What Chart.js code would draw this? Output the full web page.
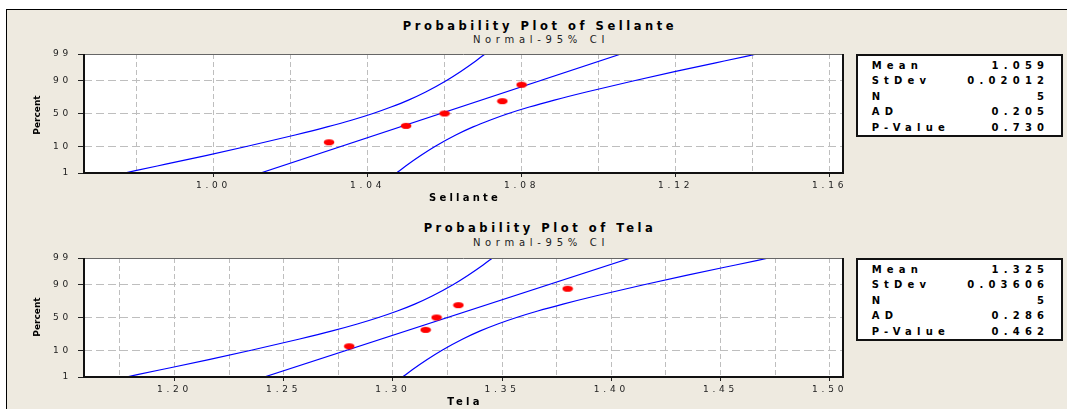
<!DOCTYPE html>
<html>
<head>
<meta charset="utf-8">
<script src="https://cdn.jsdelivr.net/npm/chart.js@4/dist/chart.umd.min.js"></script>
<style>
  body { margin: 0; width: 1067px; height: 409px; overflow: hidden; background: #fff; font-family: "DejaVu Sans", sans-serif; }
  #frame { position: absolute; left: 6px; top: 9px; right: -2px; bottom: -2px; border-left: 1px solid #000; border-top: 1px solid #000; background: #EEEAE0; }
  canvas { position: absolute; left: 8px; }
  .title { position: absolute; left: 0; width: 1080px; text-align: center; font-weight: bold; font-size: 11.5px; line-height: 13px; letter-spacing: 3.55px; color: #000; }
  .sub { position: absolute; left: 0; width: 1082px; text-align: center; font-size: 10px; line-height: 12px; letter-spacing: 4.7px; color: #222; }
  .xlab { position: absolute; left: 84px; width: 762px; text-align: center; font-weight: bold; font-size: 10px; line-height: 12px; letter-spacing: 3.2px; color: #000; }
  .ylab { position: absolute; left: -3px; width: 80px; text-align: center; font-weight: bold; font-size: 9px; line-height: 12px; color: #000; transform: rotate(-90deg); }
  .stats { position: absolute; left: 856px; width: 207px; height: 83px; box-sizing: border-box; border: 2px solid #111; background: #fff;
           padding: 1.5px 11.8px 0 13.7px; font-weight: bold; font-size: 10px; line-height: 15.5px; letter-spacing: 5.2px; color: #000; }
  .row { display: flex; justify-content: space-between; }
</style>
</head>
<body>
<div id="frame"></div>

<div class="title" style="top:19.5px">Probability Plot of Sellante</div>
<div class="sub" style="top:33.7px">Normal-95% CI</div>
<canvas id="sellante" width="850" height="200" style="top:10px"></canvas>
<div class="ylab" style="top:109px">Percent</div>
<div class="xlab" style="top:191.7px">Sellante</div>
<div class="stats" style="top:54px">
  <div class="row"><span>Mean</span><span>1.059</span></div>
  <div class="row"><span>StDev</span><span>0.02012</span></div>
  <div class="row"><span>N</span><span>5</span></div>
  <div class="row"><span>AD</span><span>0.205</span></div>
  <div class="row"><span>P-Value</span><span>0.730</span></div>
</div>

<div class="title" style="top:221.8px">Probability Plot of Tela</div>
<div class="sub" style="top:236.7px">Normal-95% CI</div>
<canvas id="tela" width="850" height="200" style="top:214px"></canvas>
<div class="ylab" style="top:311px">Percent</div>
<div class="xlab" style="top:395.7px">Tela</div>
<div class="stats" style="top:258px">
  <div class="row"><span>Mean</span><span>1.325</span></div>
  <div class="row"><span>StDev</span><span>0.03606</span></div>
  <div class="row"><span>N</span><span>5</span></div>
  <div class="row"><span>AD</span><span>0.286</span></div>
  <div class="row"><span>P-Value</span><span>0.462</span></div>
</div>

<script>
// ---------------- Data ----------------
const yTickPct = [1, 10, 50, 90, 99];
const pointPct = [13, 31.5, 50, 68.5, 87];
const fitPct = [1, 99];
const bandPct = [1, 2, 5, 10, 20, 30, 40, 50, 60, 70, 80, 90, 95, 98, 99];

// Sellante
const sellanteValues = [1.03, 1.05, 1.06, 1.075, 1.08];
const sellanteFit = [1.0122, 1.1058];
const sellanteLeft = [0.9769, 0.9854, 0.9980, 1.0088, 1.0212, 1.0295, 1.0360, 1.0414, 1.0461, 1.0506, 1.0551, 1.0604, 1.0642, 1.0681, 1.0705];
const sellanteRight = [1.0475, 1.0499, 1.0538, 1.0576, 1.0629, 1.0674, 1.0719, 1.0766, 1.0820, 1.0885, 1.0968, 1.1092, 1.1200, 1.1326, 1.1411];
const sellanteGrid = [0.98, 1.00, 1.02, 1.04, 1.06, 1.08, 1.10, 1.12, 1.14, 1.16];
const sellanteLabels = [1.00, 1.04, 1.08, 1.12, 1.16];

// Tela
const telaValues = [1.28, 1.315, 1.32, 1.33, 1.38];
const telaFit = [1.2411, 1.4089];
const telaLeft = [1.1779, 1.1931, 1.2157, 1.2351, 1.2573, 1.2722, 1.2837, 1.2934, 1.3020, 1.3100, 1.3180, 1.3275, 1.3343, 1.3413, 1.3456];
const telaRight = [1.3044, 1.3087, 1.3157, 1.3225, 1.3320, 1.3400, 1.3480, 1.3566, 1.3663, 1.3779, 1.3927, 1.4149, 1.4343, 1.4569, 1.4721];
const telaGrid = [1.175, 1.20, 1.225, 1.25, 1.275, 1.30, 1.325, 1.35, 1.375, 1.40, 1.425, 1.45, 1.475, 1.50];
const telaLabels = [1.20, 1.25, 1.30, 1.35, 1.40, 1.45, 1.50];

// normal probability scale: percent -> z
function probit(p) {
    const a = [-3.969683028665376e+01, 2.209460984245205e+02, -2.759285104469687e+02, 1.383577518672690e+02, -3.066479806614716e+01, 2.506628277459239e+00];
    const b = [-5.447609879822406e+01, 1.615858368580409e+02, -1.556989798598866e+02, 6.680131188771972e+01, -1.328068155288572e+01];
    const c = [-7.784894002430293e-03, -3.223964580411365e-01, -2.400758277161838e+00, -2.549732539343734e+00, 4.374664141464968e+00, 2.938163982698783e+00];
    const d = [7.784695709041462e-03, 3.224671290700398e-01, 2.445134137142996e+00, 3.754408661907416e+00];
    const plow = 0.02425;
    let q, r;
    if (p < plow) {
        q = Math.sqrt(-2 * Math.log(p));
        return (((((c[0] * q + c[1]) * q + c[2]) * q + c[3]) * q + c[4]) * q + c[5]) / ((((d[0] * q + d[1]) * q + d[2]) * q + d[3]) * q + 1);
    }
    if (p > 1 - plow) {
        q = Math.sqrt(-2 * Math.log(1 - p));
        return -(((((c[0] * q + c[1]) * q + c[2]) * q + c[3]) * q + c[4]) * q + c[5]) / ((((d[0] * q + d[1]) * q + d[2]) * q + d[3]) * q + 1);
    }
    q = p - 0.5;
    r = q * q;
    return (((((a[0] * r + a[1]) * r + a[2]) * r + a[3]) * r + a[4]) * r + a[5]) * q / (((((b[0] * r + b[1]) * r + b[2]) * r + b[3]) * r + b[4]) * r + 1);
}
const z = pct => probit(pct / 100);
const pairs = (xs, pcts) => xs.map((v, i) => ({ x: v, y: z(pcts[i]) }));

// red ellipse marker
const dot = document.createElement('canvas');
dot.width = 12;
dot.height = 8;
const dc = dot.getContext('2d');
dc.fillStyle = '#ff0000';
dc.beginPath();
dc.ellipse(6, 4, 5.3, 3.1, 0, 0, Math.PI * 2);
dc.fill();

const framePlugin = {
    id: 'frame',
    beforeDraw(chart) {
        const { ctx, chartArea: a } = chart;
        ctx.save();
        ctx.fillStyle = '#fff';
        ctx.fillRect(a.left, a.top, a.right - a.left, a.bottom - a.top);
        ctx.restore();
        ctx.letterSpacing = '3.8px';
    },
    afterDraw(chart) {
        const { ctx, chartArea: a } = chart;
        ctx.save();
        ctx.strokeStyle = '#666';
        ctx.lineWidth = 1;
        ctx.beginPath();
        ctx.moveTo(a.left, a.top + 0.5);
        ctx.lineTo(a.right, a.top + 0.5);
        ctx.stroke();
        ctx.strokeStyle = '#111';
        ctx.lineWidth = 2;
        ctx.beginPath();
        ctx.moveTo(a.right, a.top);
        ctx.lineTo(a.right, a.bottom);
        ctx.lineTo(a.left, a.bottom);
        ctx.lineTo(a.left, a.top);
        ctx.stroke();
        ctx.restore();
    }
};

function lineSet(data) {
    return {
        data: data,
        showLine: true,
        pointRadius: 0,
        borderColor: '#0000ff',
        borderWidth: 1.2,
        cubicInterpolationMode: 'monotone'
    };
}

function makePlot(id, xMin, xMax, grid, labels, values, fit, left, right) {
    const isLabel = v => labels.some(l => Math.abs(l - v) < 1e-6);
    const tickFont = { family: 'DejaVu Sans', size: 9 };
    return new Chart(document.getElementById(id), {
        type: 'scatter',
        data: {
            datasets: [
                { data: pairs(values, pointPct), pointStyle: dot, pointRadius: 5 },
                lineSet(pairs(fit, fitPct)),
                lineSet(pairs(left, bandPct)),
                lineSet(pairs(right, bandPct))
            ]
        },
        options: {
            responsive: false,
            animation: false,
            events: [],
            layout: { padding: { left: 0, top: 44, right: 15, bottom: 0 } },
            plugins: { legend: { display: false }, tooltip: { enabled: false } },
            scales: {
                x: {
                    type: 'linear',
                    min: xMin,
                    max: xMax,
                    afterBuildTicks: s => { s.ticks = grid.map(v => ({ value: v })); },
                    afterFit: s => { s.height = 37; },
                    ticks: {
                        autoSkip: false, maxRotation: 0, padding: 3, color: '#222', font: tickFont,
                        callback: v => isLabel(v) ? v.toFixed(2) : ''
                    },
                    grid: {
                        color: '#bebebe', lineWidth: 1, tickLength: 4, tickWidth: 1,
                        tickColor: c => isLabel(c.tick.value) ? '#222' : 'rgba(0,0,0,0)'
                    },
                    border: { display: false, dash: [5, 3] }
                },
                y: {
                    type: 'linear',
                    min: z(yTickPct[0]),
                    max: z(yTickPct[yTickPct.length - 1]),
                    afterBuildTicks: s => { s.ticks = yTickPct.map(p => ({ value: z(p) })); },
                    afterFit: s => { s.width = 76; },
                    ticks: {
                        autoSkip: false, padding: 6, color: '#222', font: tickFont,
                        callback: (v, i) => String(yTickPct[i])
                    },
                    grid: {
                        color: c => (c.index === 0 || c.index === yTickPct.length - 1) ? 'rgba(0,0,0,0)' : '#bebebe',
                        lineWidth: 1, tickLength: 6, tickWidth: 1, tickColor: '#222'
                    },
                    border: { display: false, dash: [8, 4] }
                }
            }
        },
        plugins: [framePlugin]
    });
}

makePlot('sellante', 0.96637, 1.16345, sellanteGrid, sellanteLabels, sellanteValues, sellanteFit, sellanteLeft, sellanteRight);
makePlot('tela', 1.15855, 1.50609, telaGrid, telaLabels, telaValues, telaFit, telaLeft, telaRight);
</script>
</body>
</html>
